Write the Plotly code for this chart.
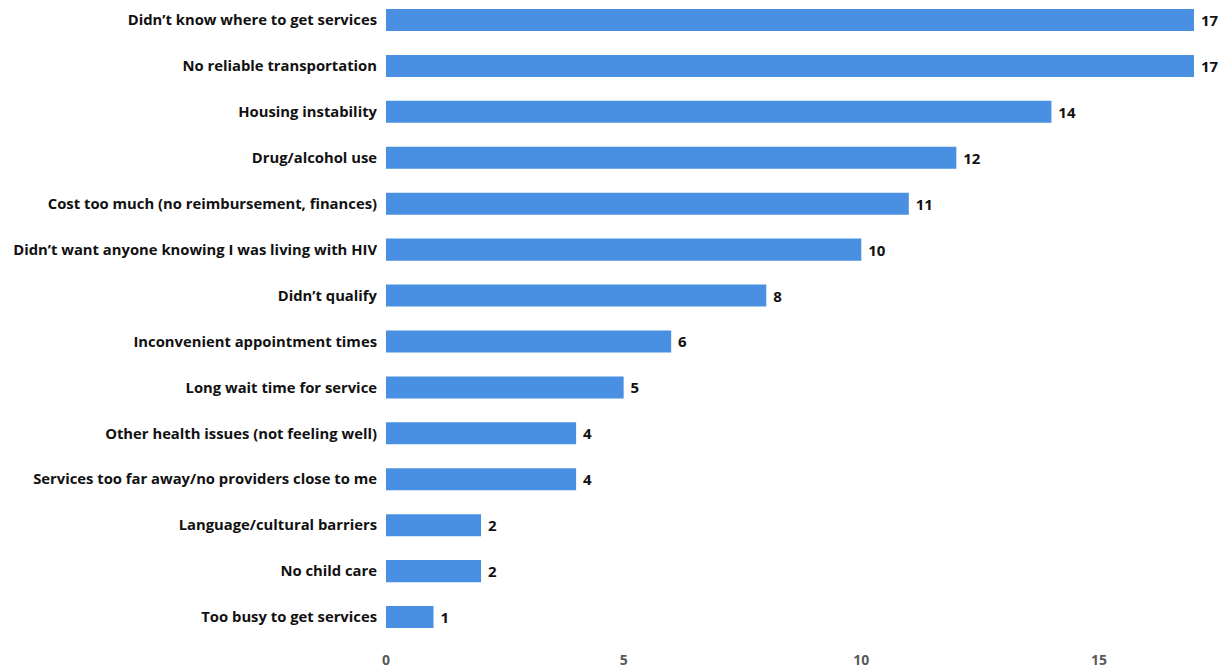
import plotly.graph_objects as go

categories = [
    "Didn’t know where to get services",
    "No reliable transportation",
    "Housing instability",
    "Drug/alcohol use",
    "Cost too much (no reimbursement, finances)",
    "Didn’t want anyone knowing I was living with HIV",
    "Didn’t qualify",
    "Inconvenient appointment times",
    "Long wait time for service",
    "Other health issues (not feeling well)",
    "Services too far away/no providers close to me",
    "Language/cultural barriers",
    "No child care",
    "Too busy to get services",
]
values = [17, 17, 14, 12, 11, 10, 8, 6, 5, 4, 4, 2, 2, 1]
x_ticks = [0, 5, 10, 15]

fig = go.Figure(go.Bar(
    x=values, y=categories, orientation="h",
    marker=dict(color="#4a90e2", line=dict(width=0)),
    width=0.48,
    text=["\u00a0" + str(v) for v in values], textposition="outside",
    textfont=dict(family="Open Sans", size=15, color="#111111", weight="bold"),
    cliponaxis=False,
))
fig.update_layout(
    width=1230, height=670,
    margin=dict(l=378, r=44, t=0, b=38),
    plot_bgcolor="white", paper_bgcolor="white",
    showlegend=False,
    xaxis=dict(range=[0, 17], tickvals=x_ticks, showgrid=False, zeroline=False,
               showline=False, ticks="", ticklen=0, ticklabelstandoff=10,
               tickfont=dict(family="Open Sans", size=14, color="#595959", weight="bold")),
    yaxis=dict(type="category", range=[13.5, -0.261], showgrid=False, zeroline=False,
               showline=False, ticks="", ticklabelstandoff=8,
               tickfont=dict(family="Open Sans", size=14.8, color="#111111", weight="bold")),
)
fig.write_html("out.html")
